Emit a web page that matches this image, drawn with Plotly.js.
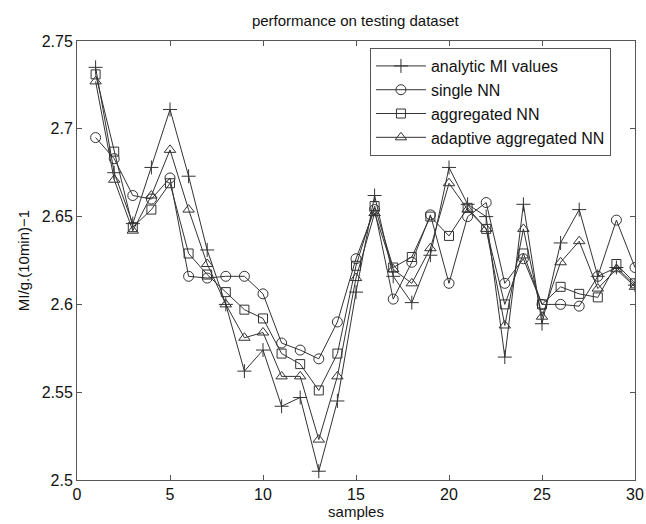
<!DOCTYPE html>
<html>
<head>
<meta charset="utf-8">
<script src="https://cdn.plot.ly/plotly-3.0.1.min.js"></script>
<style>html,body{margin:0;padding:0;background:#fff;}#chart{width:646px;height:524px;}</style>
</head>
<body>
<div id="chart"></div>
<script>
const samples = [1,2,3,4,5,6,7,8,9,10,11,12,13,14,15,16,17,18,19,20,21,22,23,24,25,26,27,28,29,30];
const analyticMI = [2.735,2.675,2.646,2.678,2.711,2.673,2.631,2.600,2.562,2.574,2.542,2.547,2.505,2.545,2.607,2.662,2.616,2.601,2.628,2.678,2.657,2.650,2.570,2.657,2.589,2.635,2.654,2.616,2.621,2.611];
const singleNN = [2.695,2.683,2.662,2.660,2.672,2.616,2.615,2.616,2.616,2.606,2.578,2.574,2.569,2.590,2.626,2.654,2.603,2.624,2.651,2.612,2.650,2.658,2.612,2.626,2.600,2.600,2.599,2.616,2.648,2.621];
const aggregatedNN = [2.731,2.687,2.644,2.654,2.669,2.629,2.617,2.607,2.597,2.592,2.572,2.566,2.551,2.572,2.622,2.656,2.621,2.627,2.650,2.639,2.655,2.643,2.600,2.629,2.600,2.610,2.606,2.604,2.623,2.612];
const adaptiveNN = [2.727,2.671,2.642,2.662,2.688,2.654,2.623,2.600,2.581,2.584,2.559,2.559,2.523,2.559,2.615,2.652,2.620,2.612,2.632,2.669,2.654,2.643,2.588,2.643,2.593,2.624,2.636,2.609,2.620,2.610];
const seriesNames = ["analytic MI values","single NN","aggregated NN","adaptive aggregated NN"];
const xTicks = [0,5,10,15,20,25,30];
const yTicks = [2.5,2.55,2.6,2.65,2.7,2.75];
const yTickText = ["2.5","2.55","2.6","2.65","2.7","2.75"];

const lineColor = "#333333";
function tr(y, name, sym, size) {
  return {
    x: samples, y: y, name: name, type: "scatter", mode: "lines+markers",
    line: {color: lineColor, width: 1},
    marker: {symbol: sym, size: size, color: lineColor, line: {color: lineColor, width: 1}}
  };
}
const data = [
  tr(analyticMI, seriesNames[0], "cross-thin-open", 10),
  tr(singleNN, seriesNames[1], "circle-open", 10),
  tr(aggregatedNN, seriesNames[2], "square-open", 9),
  tr(adaptiveNN, seriesNames[3], "triangle-up-open", 10)
];
const fontFam = "Liberation Sans, Arial, sans-serif";
const layout = {
  width: 646, height: 524,
  margin: {l: 77, r: 11, t: 41, b: 44},
  paper_bgcolor: "#fff", plot_bgcolor: "#fff",
  font: {family: fontFam, size: 16, color: "#111"},
  title: {text: "performance on testing dataset", font: {family: fontFam, size: 15, color: "#111"}, x: 0.55, xanchor: "center", y: 0.96, yanchor: "middle"},
  xaxis: {
    range: [0, 30], tickvals: xTicks, ticktext: xTicks.map(String),
    ticks: "inside", ticklen: 5, tickcolor: "#555", showgrid: false, zeroline: false,
    showline: true, linecolor: "#555", linewidth: 1, mirror: "ticks",
    tickfont: {size: 16},
    title: {text: "samples", font: {size: 15}, standoff: 3}
  },
  yaxis: {
    range: [2.5, 2.75], tickvals: yTicks, ticktext: yTickText,
    ticks: "inside", ticklen: 5, tickcolor: "#555", showgrid: false, zeroline: false,
    showline: true, linecolor: "#555", linewidth: 1, mirror: "ticks",
    tickfont: {size: 16},
    title: {text: "MI/g.(10min)−1", font: {size: 15}, standoff: 8}
  },
  showlegend: true,
  legend: {
    x: 0.525, y: 0.984, xanchor: "left", yanchor: "top",
    bgcolor: "#fff", bordercolor: "#555", borderwidth: 1,
    font: {size: 16, family: fontFam, color: "#111"},
    tracegroupgap: 0, itemwidth: 50
  }
};
Plotly.newPlot("chart", data, layout, {displayModeBar: false, staticPlot: true});
</script>
</body>
</html>
